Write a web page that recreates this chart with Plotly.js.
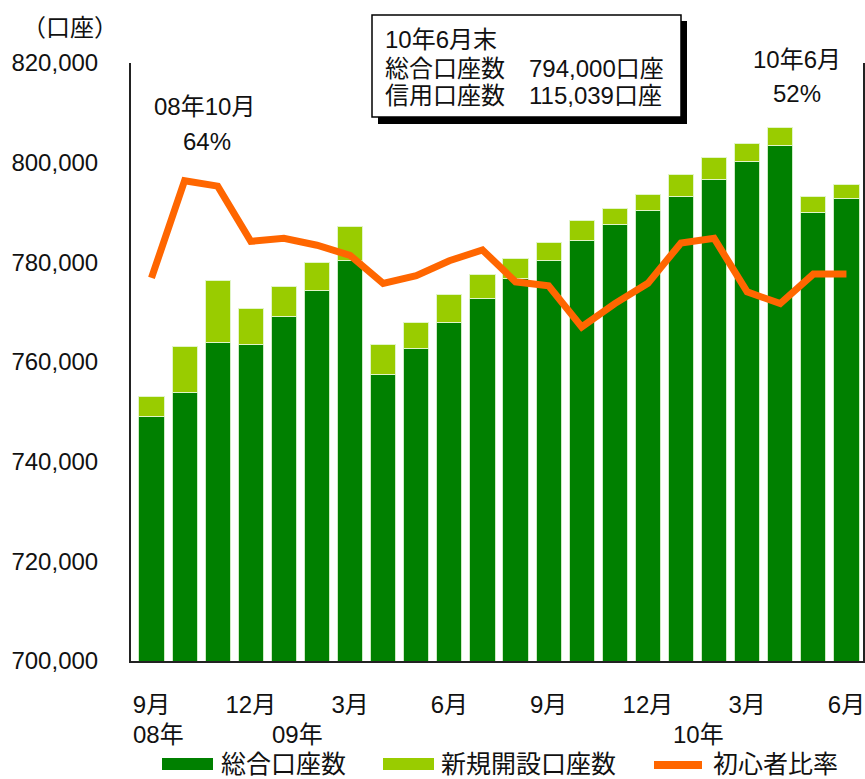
<!DOCTYPE html>
<html>
<head>
<meta charset="utf-8">
<script src="https://cdn.plot.ly/plotly-3.0.1.min.js"></script>
<style>html,body{margin:0;padding:0;background:#fff;}#chart{width:865px;height:779px;}</style>
</head>
<body>
<div id="chart"></div>
<script>
// ---- data ----
const categories = ['2008-09','2008-10','2008-11','2008-12','2009-01','2009-02','2009-03','2009-04','2009-05','2009-06','2009-07','2009-08','2009-09','2009-10','2009-11','2009-12','2010-01','2010-02','2010-03','2010-04','2010-05','2010-06'];
const totalAccounts = [749000,753800,763900,763500,769100,774300,780300,757500,762700,767900,772700,776800,780300,784300,787600,790400,793200,796700,800300,803500,790000,792800];
const newAccounts = [4150,9230,12380,7220,6100,5620,6820,6100,5300,5700,4900,4000,3600,4000,3200,3150,4350,4400,3600,3600,3150,2750];
const beginnerRatio = [51.5,64.0,63.3,56.2,56.6,55.7,54.4,50.8,51.8,53.7,55.1,51.0,50.5,45.2,48.2,50.8,56.0,56.6,49.7,48.2,52.0,52.0];
const tickCats = ['2008-09','2008-12','2009-03','2009-06','2009-09','2009-12','2010-03','2010-06'];
const tickText = ['9月','12月','3月','6月','9月','12月','3月','6月'];
const yearLabels = ['08年','09年','10年'];
const yearCats = ['2008-09','2009-01','2010-01'];
const seriesNames = ['総合口座数','新規開設口座数','初心者比率'];
const boxLines = ['10年6月末','総合口座数　794,000口座','信用口座数　115,039口座'];
const callouts = [['08年10月','64%'],['10年6月','52%']];
const unitLabel = '（口座）';

// ---- layout helpers ----
const W=865,H=779,L=131,R=863,T=63,B=661;
const px2x = p => (p-L)/(R-L);
const py2y = p => (B-p)/(B-T);
const FONT = '"Liberation Sans", Arial, "Noto Sans CJK JP", sans-serif';
const C_DARK='#008000', C_LIGHT='#99CC00', C_ORANGE='#FF6600';

const traces = [
  {type:'bar', x:categories, y:totalAccounts, name:seriesNames[0],
   marker:{color:C_DARK, line:{color:'rgba(205,235,195,1)', width:1}}, hoverinfo:'skip'},
  {type:'bar', x:categories, y:newAccounts, name:seriesNames[1],
   marker:{color:C_LIGHT, line:{color:'rgba(225,245,200,1)', width:1}}, hoverinfo:'skip'},
  {type:'scatter', mode:'lines', x:categories, y:beginnerRatio, yaxis:'y2', name:seriesNames[2],
   line:{color:C_ORANGE, width:7}, hoverinfo:'skip'}
];

const ann = [];
const txt = (text, x, y, xa, size, extra) => Object.assign({text, xref:'paper', yref:'paper', x:px2x(x), y:py2y(y),
   xanchor:xa, yanchor:'middle', showarrow:false, font:{family:FONT, size:size, color:'#111'}}, extra||{});
ann.push(txt(unitLabel, 70, 27, 'center', 24));
ann.push(txt(boxLines[0], 383, 39, 'left', 24));
ann.push(txt(boxLines[1], 383, 68, 'left', 24));
ann.push(txt(boxLines[2], 383, 96, 'left', 24));
ann.push(txt(callouts[0][0], 204, 107, 'center', 24));
ann.push(txt(callouts[0][1], 207, 141, 'center', 24));
ann.push(txt(callouts[1][0], 797, 60, 'center', 24));
ann.push(txt(callouts[1][1], 797, 94, 'center', 24));
const yearShift = [7,14,18];
yearCats.forEach((c,i)=>{
  ann.push({text:yearLabels[i], xref:'x', yref:'paper', x:c, xshift:yearShift[i], y:py2y(734), yanchor:'middle', xanchor:'center',
    showarrow:false, font:{family:FONT, size:24, color:'#111'}});
});
// legend texts
ann.push(txt(seriesNames[0], 219, 764, 'left', 25));
ann.push(txt(seriesNames[1], 439, 764, 'left', 25));
ann.push(txt(seriesNames[2], 711, 764, 'left', 25));

const rectP = (x0,y0,x1,y1,fill,line) => ({type:'rect', xref:'paper', yref:'paper', x0:px2x(x0), x1:px2x(x1), y0:py2y(y1), y1:py2y(y0),
   fillcolor:fill, line: line || {width:0}});
const shapes = [
  rectP(378,21,687,124,'#000'),
  rectP(372,15,681,117,'#fff',{color:'#000', width:1.5}),
  rectP(162,758,213,770,C_DARK),
  rectP(383,758,434,770,C_LIGHT),
  {type:'line', xref:'paper', yref:'paper', x0:px2x(654), x1:px2x(702), y0:py2y(765), y1:py2y(765), line:{color:C_ORANGE, width:8}}
];

const layout = {
  width:W, height:H,
  margin:{l:L, r:W-R, t:T, b:H-B, pad:0},
  paper_bgcolor:'#fff', plot_bgcolor:'#fff',
  barmode:'stack', bargap:0.24,
  showlegend:false,
  font:{family:FONT, size:24, color:'#111'},
  xaxis:{type:'category', tickvals:tickCats, ticktext:tickText, showgrid:false, zeroline:false,
    showline:true, linecolor:'#222', linewidth:2, ticks:'', ticklabelstandoff:21,
    tickfont:{family:FONT, size:24, color:'#111'}},
  yaxis:{range:[700000,820000], dtick:20000, tickformat:',d', showgrid:false, zeroline:false,
    showline:true, linecolor:'#222', linewidth:2, ticks:'', ticklabelstandoff:26,
    tickfont:{family:FONT, size:24, color:'#111'}},
  yaxis2:{overlaying:'y', side:'right', range:[2.23,79.14], showticklabels:false, showgrid:false, zeroline:false,
    showline:true, linecolor:'#222', linewidth:2, ticks:''},
  annotations:ann, shapes:shapes, hovermode:false
};
Plotly.newPlot('chart', traces, layout, {displayModeBar:false, staticPlot:true});
</script>
</body>
</html>
